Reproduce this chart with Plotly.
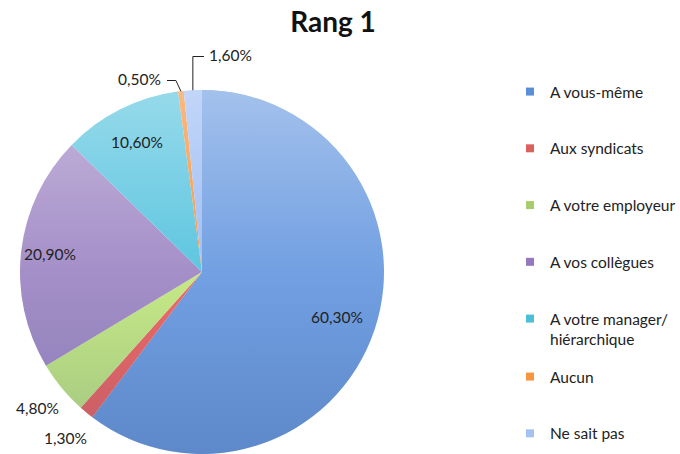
import math
import base64
import plotly.graph_objects as go

labels = ["A vous-même", "Aux syndicats", "A votre employeur", "A vos collègues",
          "A votre manager/<br>hiérarchique", "Aucun", "Ne sait pas"]
values = [60.3, 1.3, 4.8, 20.9, 10.6, 0.5, 1.6]
text_labels = ["60,30%", "1,30%", "4,80%", "20,90%", "10,60%", "0,50%", "1,60%"]
colors = ["#72a0e2", "#f06a66", "#c6ea86", "#a58fc8", "#5ec6e0", "#f7953f", "#a0bff4"]
legend_colors = ["#5b8ed6", "#d9625f", "#a9cc6a", "#9479bd", "#4bbfd8", "#f7963f", "#a4c2f2"]
# label radius as a fraction of the pie radius (None = leader-line label)
label_radius = [0.78, 1.18, 1.175, 0.84, 0.8, None, None]

W, H = 680, 454
cx, cy, R = 202, 272, 182
FONT = "Lato"
TXT = "#222222"

fig = go.Figure()
fig.add_trace(go.Pie(
    labels=labels, values=values, textinfo="none",
    sort=False, direction="clockwise", rotation=0,
    marker=dict(colors=colors, line=dict(width=0)),
    showlegend=False, hoverinfo="label+percent",
    domain=dict(x=[(cx - R) / W, (cx + R) / W], y=[(H - cy - R) / H, (H - cy + R) / H]),
))

for i, (lab, col) in enumerate(zip(labels, legend_colors)):
    fig.add_trace(go.Scatter(
        x=[None], y=[None], mode="markers", name=lab,
        marker=dict(symbol="square", size=8, color=col),
        legendgroup=str(i), legend="legend" if i < 5 else "legend2",
    ))


def px(x):
    return x / W


def py(y):
    return 1 - y / H


def slice_point(idx, rf):
    total = sum(values)
    frac = (sum(values[:idx]) + values[idx] / 2) / total
    ang = 2 * math.pi * frac
    return cx + rf * R * math.sin(ang), cy - rf * R * math.cos(ang)


shapes, annotations = [], []
for i, rf in enumerate(label_radius):
    if rf is None:
        continue
    x, y = slice_point(i, rf)
    annotations.append(dict(text=text_labels[i], x=px(x), y=py(y), xref="paper", yref="paper",
                            xanchor="center", yanchor="middle", showarrow=False,
                            font=dict(family=FONT, size=15.5, color=TXT)))

# Aucun: label to the left with elbow leader line
ax_, ay_ = slice_point(5, 1.0)
shapes.append(dict(type="path", xref="paper", yref="paper",
                   path=f"M {px(ax_)} {py(ay_)} L {px(ax_ - 5)} {py(80.5)} L {px(167)} {py(80.5)}",
                   line=dict(color="#222222", width=1)))
annotations.append(dict(text=text_labels[5], x=px(163), y=py(79), xref="paper", yref="paper",
                        xanchor="right", yanchor="middle", showarrow=False,
                        font=dict(family=FONT, size=15.5, color=TXT)))
# Ne sait pas: label to the right with elbow leader line
bx, by = slice_point(6, 1.0)
shapes.append(dict(type="path", xref="paper", yref="paper",
                   path=f"M {px(bx)} {py(by)} L {px(bx)} {py(56.5)} L {px(204)} {py(56.5)}",
                   line=dict(color="#222222", width=1)))
annotations.append(dict(text=text_labels[6], x=px(207), y=py(55), xref="paper", yref="paper",
                        xanchor="left", yanchor="middle", showarrow=False,
                        font=dict(family=FONT, size=15.5, color=TXT)))

# vertical light-to-dark shading over the pie (Excel-style gradient look)
svg = ('<svg xmlns="http://www.w3.org/2000/svg" width="364" height="364" viewBox="0 0 100 100" '
       'preserveAspectRatio="none"><defs><linearGradient id="g" x1="0" y1="0" x2="0" y2="1">'
       '<stop offset="0" stop-color="#ffffff" stop-opacity="0.35"/>'
       '<stop offset="0.5" stop-color="#ffffff" stop-opacity="0"/>'
       '<stop offset="0.5" stop-color="#0a2a6a" stop-opacity="0"/>'
       '<stop offset="1" stop-color="#0a2a6a" stop-opacity="0.2"/>'
       '</linearGradient></defs><circle cx="50" cy="50" r="50" fill="url(#g)"/></svg>')
img_src = "data:image/svg+xml;base64," + base64.b64encode(svg.encode()).decode()

legend_common = dict(font=dict(family=FONT, size=15.5, color=TXT),
                     tracegroupgap=33.6, xanchor="left", yanchor="top",
                     valign="top", bgcolor="rgba(0,0,0,0)", itemwidth=30)

fig.update_layout(
    width=W, height=H,
    margin=dict(l=0, r=0, t=0, b=0, autoexpand=False),
    paper_bgcolor="white", plot_bgcolor="white",
    title=dict(text="<b>Rang 1</b>", x=333 / W, xanchor="center", y=1 - 22 / H, yanchor="middle",
               font=dict(family=FONT, size=28, color="#111111")),
    xaxis=dict(visible=False, domain=[0.99, 1.0]),
    yaxis=dict(visible=False, domain=[0.99, 1.0]),
    legend=dict(x=510 / W, y=1 - 75 / H, **legend_common),
    legend2=dict(x=510 / W, y=1 - 360 / H, **legend_common),
    shapes=shapes,
    annotations=annotations,
    images=[dict(source=img_src, xref="paper", yref="paper",
                 x=px(cx - R), y=py(cy - R), sizex=2 * R / W, sizey=2 * R / H,
                 xanchor="left", yanchor="top", sizing="stretch", layer="above")],
)

fig.write_html("out.html")
